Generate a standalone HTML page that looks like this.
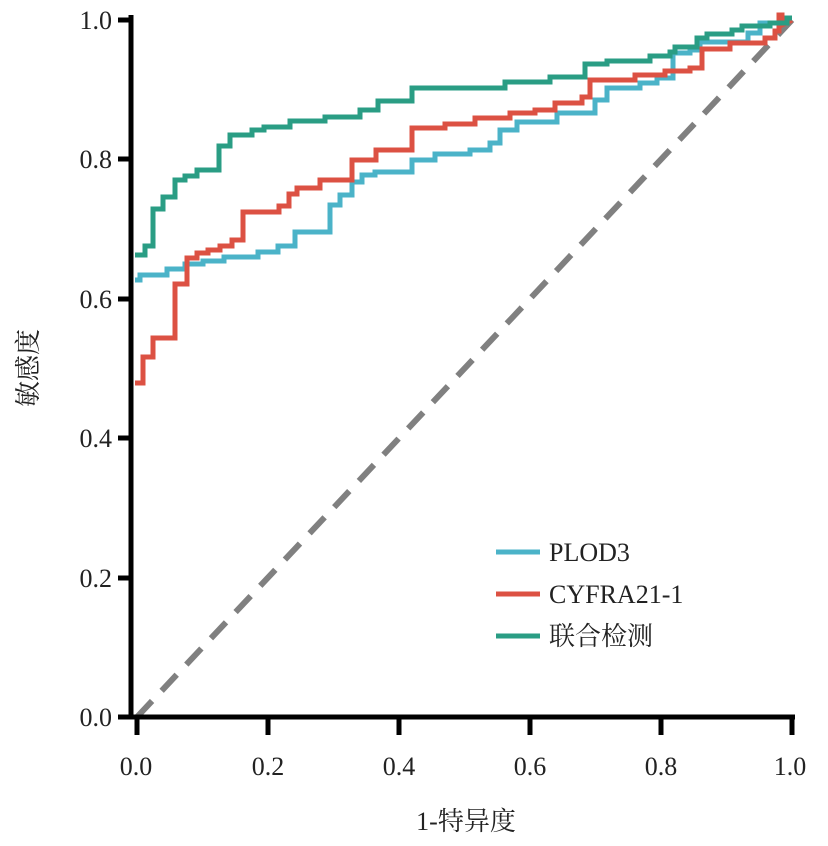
<!DOCTYPE html>
<html><head><meta charset="utf-8"><style>body{margin:0;background:#fff}svg{display:block}</style></head><body>
<svg width="828" height="846" viewBox="0 0 828 846" xmlns="http://www.w3.org/2000/svg" font-family="'Liberation Serif','Noto Serif CJK SC',serif">
<rect width="828" height="846" fill="#fff"/>
<line x1="137" y1="717" x2="792" y2="20" stroke="#808080" stroke-width="6" stroke-dasharray="22,14"/>
<g fill="none" stroke-width="5" stroke-linejoin="miter">
<polyline stroke="#4bb3c8" points="135,280 140,280 140,275 167,275 167,269 185,269 185,264 203,264 203,261 224,261 224,257 258,257 258,252 278,252 278,246 295,246 295,232 330,232 330,205 340,205 340,195 352,195 352,182 362,182 362,175 375,175 375,172 412,172 412,160 435,160 435,154 470,154 470,150 490,150 490,143 500,143 500,130 517,130 517,122 557,122 557,113 595,113 595,100 607,100 607,88 640,88 640,83 657,83 657,78 673,78 673,53 690,53 690,50 700,50 700,42 748,42 748,33 760,33 760,23 785,23 792,20"/>
<polyline stroke="#dc5143" points="135,383 143,383 143,357 153,357 153,338 175,338 175,284 187,284 187,258 197,258 197,253 208,253 208,250 220,250 220,246 232,246 232,240 243,240 243,212 279,212 279,206 289,206 289,194 297,194 297,188 320,188 320,180 352,180 352,160 376,160 376,150 412,150 412,128 445,128 445,124 475,124 475,118 510,118 510,113 535,113 535,110 555,110 555,103 582,103 582,97 590,97 590,80 635,80 635,75 665,75 665,71 690,71 690,68 702,68 702,49 730,49 730,43 765,43 765,38 775,38 775,31 779,31 779,15 782,15 782,25 792,20"/>
<polyline stroke="#2a9d84" points="135,255 145,255 145,246 153,246 153,209 163,209 163,197 175,197 175,180 185,180 185,176 197,176 197,170 219,170 219,146 230,146 230,135 252,135 252,130 264,130 264,127 290,127 290,121 325,121 325,117 360,117 360,110 378,110 378,101 412,101 412,88 505,88 505,82 550,82 550,77 585,77 585,64 607,64 607,61 650,61 650,56 670,56 670,52 675,52 675,47 697,47 697,38 707,38 707,34 732,34 732,30 742,30 742,26 770,26 770,23 787,23 787,18 792,18"/>
</g>
<g stroke="#000" stroke-width="5">
<line x1="131" y1="15" x2="131" y2="719"/>
<line x1="118" y1="717" x2="795" y2="717"/>
<line x1="118" y1="20" x2="131" y2="20"/>
<line x1="118" y1="159" x2="131" y2="159"/>
<line x1="118" y1="299" x2="131" y2="299"/>
<line x1="118" y1="438" x2="131" y2="438"/>
<line x1="118" y1="578" x2="131" y2="578"/>
<line x1="137" y1="717" x2="137" y2="735"/>
<line x1="268" y1="717" x2="268" y2="735"/>
<line x1="399" y1="717" x2="399" y2="735"/>
<line x1="530" y1="717" x2="530" y2="735"/>
<line x1="661" y1="717" x2="661" y2="735"/>
<line x1="792" y1="717" x2="792" y2="735"/>
</g>
<g font-size="26" fill="#222" text-anchor="end">
<text x="112" y="29">1.0</text><text x="112" y="168">0.8</text><text x="112" y="308">0.6</text><text x="112" y="447">0.4</text><text x="112" y="587">0.2</text><text x="112" y="726">0.0</text>
</g>
<g font-size="26" fill="#222" text-anchor="middle">
<text x="136" y="775">0.0</text><text x="268" y="775">0.2</text><text x="399" y="775">0.4</text><text x="530" y="775">0.6</text><text x="661" y="775">0.8</text><text x="790" y="775">1.0</text>
<text x="466" y="830">1-特异度</text>
<text transform="translate(37,368) rotate(-90)">敏感度</text>
</g>
<g stroke-width="5">
<line x1="496" y1="552" x2="540" y2="552" stroke="#4bb3c8"/>
<line x1="496" y1="594" x2="540" y2="594" stroke="#dc5143"/>
<line x1="496" y1="636" x2="540" y2="636" stroke="#2a9d84"/>
</g>
<g font-size="26" fill="#222">
<text x="549" y="561">PLOD3</text><text x="549" y="603">CYFRA21-1</text><text x="549" y="645">联合检测</text>
</g>
</svg>
</body></html>
